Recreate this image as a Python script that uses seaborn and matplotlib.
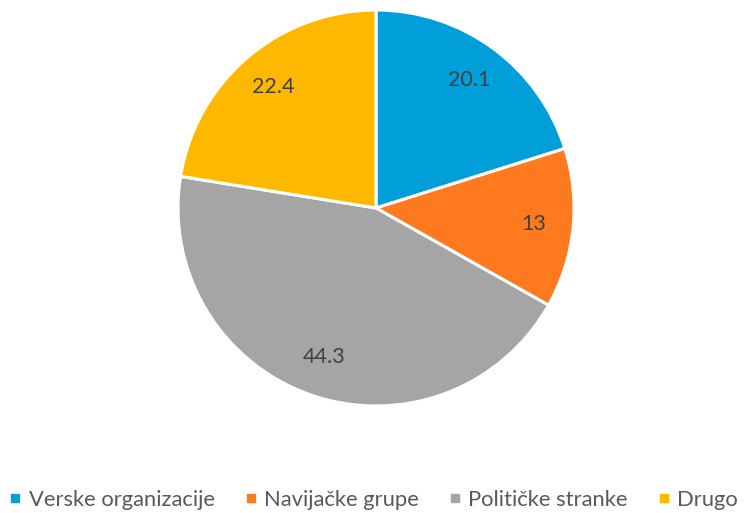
import matplotlib
matplotlib.use("Agg")
import matplotlib.pyplot as plt
from matplotlib.lines import Line2D
import seaborn as sns

categories = ["Verske organizacije", "Navijačke grupe", "Političke stranke", "Drugo"]
values = [20.1, 13, 44.3, 22.4]
labels = ["20.1", "13", "44.3", "22.4"]
colors = ["#009FD9", "#FF7A1F", "#A5A5A5", "#FFB800"]

sns.set_theme(style="white")
plt.rcParams["font.family"] = ["Lato", "DejaVu Sans"]

fig = plt.figure(figsize=(7.54, 5.13), dpi=100)
cx, cy, r = 376, 208, 198
ax = fig.add_axes([(cx - r) / 754, (513 - cy - r) / 513, 2 * r / 754, 2 * r / 513])

wedges, texts = ax.pie(values, colors=colors, startangle=90, counterclock=False,
                       labels=labels, labeldistance=0.8,
                       wedgeprops=dict(edgecolor="white", linewidth=2.2),
                       textprops=dict(color="#404040", fontsize=15.5, ha="center", va="center"))
for t in texts:
    t.set_ha("center")
    t.set_va("center")
ax.set_aspect("equal")
ax.set_xlim(-1.0, 1.0)
ax.set_ylim(-1.0, 1.0)
ax.axis("off")

handles = [Line2D([0], [0], marker="s", linestyle="", markersize=6,
                  markerfacecolor=c, markeredgecolor=c) for c in colors]
leg = fig.legend(handles, categories, loc="center left", ncol=4,
                 bbox_to_anchor=(10 / 754, 1 - 500 / 513), frameon=False,
                 fontsize=15.8, handlelength=0.5, handletextpad=0.35,
                 columnspacing=1.4, borderaxespad=0, borderpad=0)
for t in leg.get_texts():
    t.set_color("#595959")

fig.savefig("out.png", dpi=100)
